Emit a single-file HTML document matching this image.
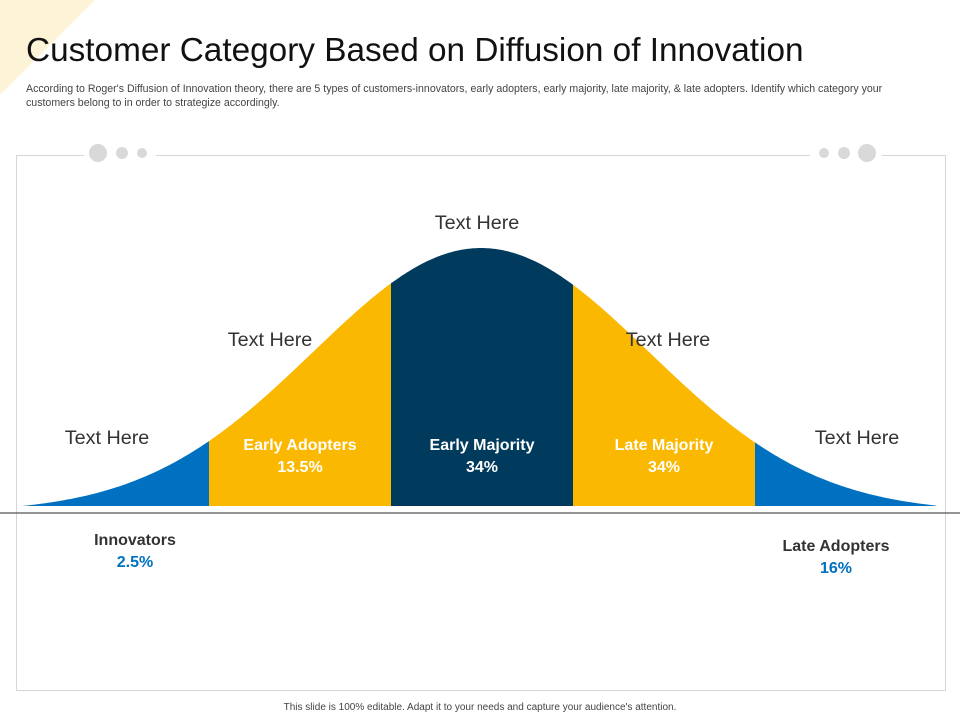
<!DOCTYPE html>
<html><head><meta charset="utf-8"><style>
body{margin:0;width:960px;height:720px;background:#fff;font-family:"Liberation Sans",sans-serif;overflow:hidden;position:relative}
.t{position:absolute}
</style></head><body>
<svg width="960" height="720" style="position:absolute;left:0;top:0">
<polygon points="0,0 95,0 0,95" fill="#fdf3d6"/>
<rect x="16.5" y="155.5" width="929" height="535" fill="none" stroke="#d6d6d6"/>
<rect x="84" y="145" width="72" height="20" fill="#fff"/>
<rect x="810" y="145" width="72" height="20" fill="#fff"/>
<circle cx="98" cy="153" r="9" fill="#d9d9d9"/>
<circle cx="122" cy="153" r="6" fill="#d9d9d9"/>
<circle cx="142" cy="153" r="5" fill="#d9d9d9"/>
<circle cx="824" cy="153" r="5" fill="#d9d9d9"/>
<circle cx="844" cy="153" r="6" fill="#d9d9d9"/>
<circle cx="867" cy="153" r="9" fill="#d9d9d9"/>
<g id="curve"></g>
<line x1="0" y1="513" x2="960" y2="513" stroke="#555" stroke-width="1.2"/>
</svg>
<div class="t" style="left:26px;top:31px;font-size:33px;color:#111;transform:scaleX(1.01);transform-origin:left">Customer Category Based on Diffusion of Innovation</div>
<div class="t" style="left:26px;top:82px;width:960px;font-size:10.6px;line-height:14px;color:#444;transform:scaleX(1.0);transform-origin:left">According to Roger's Diffusion of Innovation theory, there are 5 types of customers-innovators, early adopters, early majority, late majority, &amp; late adopters. Identify which category your<br>customers belong to in order to strategize accordingly.</div>
<div id="labels"></div>
<div class="t" style="left:0;width:960px;top:702px;text-align:center;font-size:10px;color:#444">This slide is 100% editable. Adapt it to your needs and capture your audience's attention.</div>
<script>
const categories=["Innovators","Early Adopters","Early Majority","Late Majority","Late Adopters"];
const percents=[2.5,13.5,34,34,16];
const colors=["#0070c0","#fbb800","#003a5d","#fbb800","#0070c0"];
const bounds=[22,209,391,573,755,936];
const base=506,peak=248,cx=481,sig=168;
const gauss=x=>Math.exp(-((x-cx)**2)/(2*sig*sig));
const g0=gauss(bounds[0]);
const yOf=x=>base-(base-peak)*Math.max(0,(gauss(x)-g0)/(1-g0));
const g=document.getElementById('curve');
const NS="http://www.w3.org/2000/svg";
for(let i=0;i<categories.length;i++){
  let d=`M${bounds[i]},${base}`;
  for(let x=bounds[i];x<=bounds[i+1];x+=2)d+=` L${x},${yOf(x).toFixed(1)}`;
  d+=` L${bounds[i+1]},${yOf(bounds[i+1]).toFixed(1)} L${bounds[i+1]},${base} Z`;
  const p=document.createElementNS(NS,'path');
  p.setAttribute('d',d);p.setAttribute('fill',colors[i]);
  
  
  g.appendChild(p);
}
const L=document.getElementById('labels');
function lab(x,y,html,style,name){
  const e=document.createElement('div');
  e.className='t';
  e.style.cssText=`left:${x-100}px;width:200px;top:${y}px;text-align:center;`+style;
  e.innerHTML=html;
  
  
  L.appendChild(e);
}
const hx=[107,270,477,668,857],hy=[428,330,213,330,428];
for(let i=0;i<5;i++)lab(hx[i],hy[i],"Text Here","font-size:19px;color:#333;transform:scaleX(1.04)","text-here-label");
for(let i=1;i<4;i++){
  const m=(bounds[i]+bounds[i+1])/2;
  lab(m,435,`${categories[i]}<br>${percents[i]}%`,"font-size:16px;line-height:22px;font-weight:bold;color:#fff;transform:scaleX(1.0)","category-label");
}
lab(135,530,`<span style="color:#333">${categories[0]}</span><br><span style="color:#0070c0">${percents[0]}%</span>`,"font-size:16px;line-height:22px;font-weight:bold;transform:scaleX(1.0)","innovators-label");
lab(836,536,`<span style="color:#333">${categories[4]}</span><br><span style="color:#0070c0">${percents[4]}%</span>`,"font-size:16px;line-height:22px;font-weight:bold;transform:scaleX(1.0)","late-adopters-label");
</script>
</body></html>
